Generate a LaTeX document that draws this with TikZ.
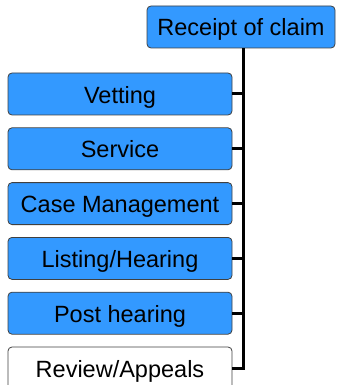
\documentclass[tikz,border=0pt]{standalone}
\usepackage{fontspec}
\setmainfont{Liberation Sans}
\usetikzlibrary{positioning}
\definecolor{stageblue}{HTML}{3399FF}

\begin{document}
\begin{tikzpicture}[
  x=1pt, y=1pt,
  node distance=12pt,
  stage/.style={draw=black!75, line width=0.8pt, rounded corners=4pt, fill=stageblue, minimum width=224pt, minimum height=42pt, inner sep=0pt, text height=19pt, text depth=1pt, font=\fontsize{23.5}{28}\selectfont},
  link/.style={line width=3pt}
]
\useasboundingbox (0,0) rectangle (337,-385);
\node[stage, minimum width=188pt] (claim) at (241,-27) {Receipt of claim};
\node[stage] (vet) at (120,-94) {Vetting};
\node[stage, below=of vet] (serv) {Service};
\node[stage, below=of serv] (cm) {Case Management};
\node[stage, below=of cm] (list) {Listing/Hearing};
\node[stage, below=of list] (post) {Post hearing};
\node[stage, fill=white, below=of post] (review) {Review/Appeals};
\coordinate[xshift=2pt] (trunk) at (claim.south);
\draw[link] (trunk) |- (review.east);
\foreach \n in {vet,serv,cm,list,post}
  \draw[link] (\n.east) -- (\n.east -| trunk);
\end{tikzpicture}
\end{document}
